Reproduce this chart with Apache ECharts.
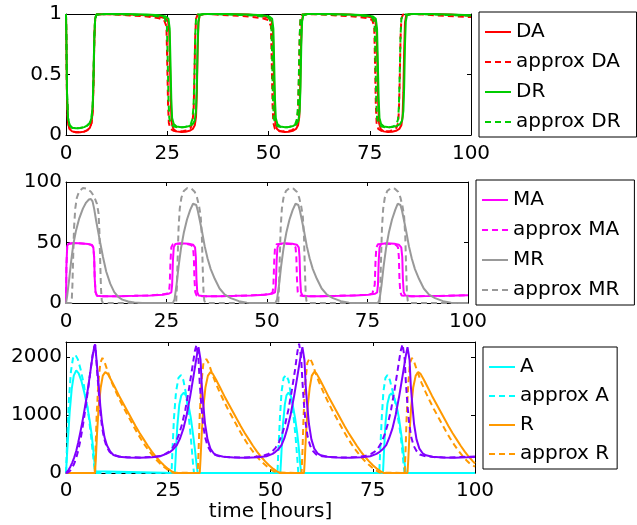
<!DOCTYPE html>
<html>
<head>
<meta charset="utf-8">
<script src="https://cdn.jsdelivr.net/npm/echarts@6/dist/echarts.min.js"></script>
<style>
  html, body { margin: 0; padding: 0; background: #fff; }
  #chart { width: 637px; height: 525px; }
</style>
</head>
<body>
<div id="chart"></div>
<script>
// ---- axis ticks ----
const timeTicks = [0, 25, 50, 75, 100];
const dTicks = [0, 0.5, 1];
const mTicks = [0, 50, 100];
const pTicks = [0, 1000, 2000];

// ---- panel 1: DNA binding states (fraction) as [time, value] ----
const DA = [[0,1],[0.1,0.75],[0.25,0.3],[0.5,0.1],[0.9,0.05],[1.5,0.03],[2.5,0.022],[3.5,0.022],[4.5,0.028],[5.3,0.04],[5.9,0.06],[6.3,0.1],[6.6,0.2],[6.8,0.45],[7.0,0.8],[7.2,0.96],[7.5,0.995],[10,1],[15,0.995],[20,0.99],[23,0.98],[24.5,0.965],[25.2,0.94],[25.5,0.85],[25.7,0.55],[25.9,0.25],[26.1,0.1],[26.5,0.05],[27.2,0.03],[28.5,0.025],[29.5,0.027],[30.5,0.035],[31.3,0.05],[31.8,0.08],[32.1,0.15],[32.3,0.35],[32.5,0.7],[32.7,0.93],[33,0.99],[34,1],[40,1],[45,0.995],[48,0.985],[50,0.97],[50.8,0.94],[51.1,0.85],[51.3,0.55],[51.5,0.25],[51.7,0.1],[52.1,0.05],[52.8,0.03],[54,0.025],[55,0.027],[56,0.035],[56.8,0.05],[57.3,0.08],[57.6,0.15],[57.8,0.35],[58,0.7],[58.2,0.93],[58.5,0.99],[59.5,1],[65,1],[70,0.995],[73.5,0.985],[75.5,0.97],[76.4,0.94],[76.7,0.85],[76.9,0.55],[77.1,0.25],[77.3,0.1],[77.7,0.05],[78.4,0.03],[79.5,0.025],[80.5,0.027],[81.5,0.035],[82.3,0.05],[82.8,0.08],[83.1,0.15],[83.3,0.35],[83.5,0.7],[83.7,0.93],[84,0.99],[85,1],[90,1],[95,0.995],[100,0.985]];
const approxDA = [[0,1],[0.1,0.75],[0.25,0.3],[0.5,0.1],[0.9,0.05],[1.5,0.03],[2.5,0.022],[3.5,0.022],[4.5,0.028],[5.3,0.04],[5.9,0.06],[6.3,0.1],[6.6,0.2],[6.8,0.45],[7.0,0.8],[7.2,0.96],[7.5,0.995],[10,1],[15,0.99],[20,0.98],[23,0.965],[24.2,0.95],[24.8,0.9],[25.0,0.6],[25.2,0.25],[25.4,0.1],[25.8,0.05],[26.5,0.035],[27.8,0.03],[29,0.033],[30,0.04],[30.8,0.06],[31.2,0.1],[31.5,0.2],[31.7,0.45],[31.9,0.8],[32.1,0.96],[32.5,0.995],[35,1],[40,0.99],[45,0.98],[48.5,0.965],[50,0.95],[50.6,0.9],[50.8,0.6],[51.0,0.25],[51.2,0.1],[51.6,0.05],[52.3,0.035],[53.6,0.03],[54.8,0.033],[55.8,0.04],[56.6,0.06],[57.0,0.1],[57.3,0.2],[57.5,0.45],[57.7,0.8],[57.9,0.96],[58.3,0.995],[61,1],[66,0.99],[71,0.98],[74.5,0.965],[75.6,0.95],[76.1,0.9],[76.3,0.6],[76.5,0.25],[76.7,0.1],[77.1,0.05],[77.8,0.035],[79,0.03],[80,0.033],[80.9,0.04],[81.6,0.06],[82.0,0.1],[82.2,0.2],[82.4,0.45],[82.6,0.8],[82.8,0.96],[83.2,0.995],[86,1],[91,0.99],[96,0.98],[100,0.975]];
const DR = [[0,1],[0.1,0.8],[0.25,0.35],[0.5,0.14],[0.9,0.08],[1.5,0.06],[2.5,0.055],[3.5,0.058],[4.5,0.065],[5.3,0.08],[5.9,0.1],[6.3,0.14],[6.6,0.25],[6.8,0.5],[7.0,0.82],[7.2,0.96],[7.5,0.995],[10,1],[15,1],[20,0.995],[23,0.99],[24.6,0.98],[25.3,0.96],[25.6,0.88],[25.8,0.6],[26.0,0.3],[26.2,0.14],[26.6,0.09],[27.3,0.07],[28.5,0.065],[29.5,0.067],[30.5,0.075],[31.3,0.09],[31.8,0.12],[32.1,0.2],[32.3,0.4],[32.5,0.75],[32.7,0.94],[33.0,0.99],[34,1],[40,1],[45,0.995],[48.5,0.99],[50.2,0.98],[50.9,0.96],[51.2,0.88],[51.4,0.6],[51.6,0.3],[51.8,0.14],[52.2,0.09],[52.9,0.07],[54.1,0.065],[55.1,0.067],[56.1,0.075],[56.9,0.09],[57.4,0.12],[57.7,0.2],[57.9,0.4],[58.1,0.75],[58.3,0.94],[58.6,0.99],[59.6,1],[65,1],[70,0.995],[74,0.99],[75.8,0.98],[76.5,0.96],[76.8,0.88],[77.0,0.6],[77.2,0.3],[77.4,0.14],[77.8,0.09],[78.5,0.07],[79.7,0.065],[80.7,0.067],[81.7,0.075],[82.5,0.09],[83.0,0.12],[83.3,0.2],[83.5,0.4],[83.7,0.75],[83.9,0.94],[84.2,0.99],[85.2,1],[90,1],[95,0.995],[100,0.99]];
const approxDR = [[0,1],[0.1,0.8],[0.25,0.35],[0.5,0.14],[0.9,0.08],[1.5,0.06],[2.5,0.055],[3.5,0.058],[4.5,0.065],[5.3,0.08],[5.9,0.1],[6.3,0.14],[6.6,0.25],[6.8,0.5],[7.0,0.82],[7.2,0.96],[7.5,0.995],[10,1],[15,0.995],[20,0.99],[23,0.98],[24.3,0.97],[24.9,0.92],[25.1,0.65],[25.3,0.3],[25.5,0.14],[25.9,0.09],[26.6,0.07],[27.8,0.063],[29,0.065],[30,0.072],[30.8,0.09],[31.2,0.13],[31.5,0.24],[31.7,0.5],[31.9,0.82],[32.1,0.96],[32.5,0.995],[35,1],[40,0.995],[45,0.99],[48.5,0.98],[50.1,0.97],[50.7,0.92],[50.9,0.65],[51.1,0.3],[51.3,0.14],[51.7,0.09],[52.4,0.07],[53.6,0.063],[54.8,0.065],[55.8,0.072],[56.6,0.09],[57.0,0.13],[57.3,0.24],[57.5,0.5],[57.7,0.82],[57.9,0.96],[58.3,0.995],[61,1],[66,0.995],[71,0.99],[74.5,0.98],[75.7,0.97],[76.2,0.92],[76.4,0.65],[76.6,0.3],[76.8,0.14],[77.2,0.09],[77.9,0.07],[79,0.063],[80,0.065],[80.9,0.072],[81.6,0.09],[82.0,0.13],[82.2,0.24],[82.4,0.5],[82.6,0.82],[82.8,0.96],[83.2,0.995],[86,1],[91,0.995],[96,0.99],[100,0.985]];

// ---- panel 2: mRNA levels ----
const MA = [[0,0],[0.1,30],[0.3,47],[0.6,49],[2,49.5],[4,49.2],[5.5,48.8],[6.4,48],[6.8,46],[7.0,38],[7.15,20],[7.35,9],[7.7,6],[9,5.5],[13,5.6],[17,5.9],[21,6.3],[24,6.9],[25.5,7.6],[26.2,8.8],[26.4,15],[26.6,35],[26.8,46],[27.2,48.8],[28.5,49.3],[30.5,49],[31.6,48.2],[32.1,46],[32.3,38],[32.45,20],[32.65,9],[33,6.2],[34.5,5.6],[38,5.6],[42,5.9],[46,6.3],[49.5,6.9],[51.2,7.6],[52,8.8],[52.2,15],[52.4,35],[52.6,46],[53,48.8],[54.3,49.3],[56.3,49],[57.4,48.2],[57.9,46],[58.1,38],[58.25,20],[58.45,9],[58.8,6.2],[60.3,5.6],[64,5.6],[68,5.9],[72,6.3],[75.2,6.9],[76.9,7.6],[77.4,8.8],[77.6,15],[77.8,35],[78,46],[78.4,48.8],[79.7,49.3],[81.7,49],[82.8,48.2],[83.4,46],[83.65,38],[83.8,20],[84.0,9],[84.4,6.2],[86,5.6],[90,5.7],[95,6],[100,6.4]];
const approxMA = [[0,0],[0.1,30],[0.3,47],[0.6,49],[2,49.5],[4,49.2],[5.5,48.8],[6.4,48],[6.8,46],[7.0,38],[7.15,20],[7.35,9],[7.7,6],[9,5.5],[13,5.6],[17,5.9],[21,6.3],[23.5,6.9],[25,7.6],[25.6,8.8],[25.8,15],[26.0,35],[26.2,46],[26.6,48.5],[28,49],[30,48.8],[31.1,48],[31.6,46],[31.8,38],[31.95,20],[32.15,9],[32.5,6.2],[34,5.6],[38,5.6],[42,5.9],[46,6.3],[49,6.9],[50.9,7.6],[51.4,8.8],[51.6,15],[51.8,35],[52.0,46],[52.4,48.5],[53.8,49],[55.8,48.8],[56.6,48],[57.1,46],[57.3,38],[57.45,20],[57.65,9],[58,6.2],[59.5,5.6],[63,5.6],[67,5.9],[71,6.3],[74.5,6.9],[76.2,7.6],[76.6,8.8],[76.8,15],[77.0,35],[77.2,46],[77.6,48.5],[79,49],[81,48.8],[82.1,48],[82.6,46],[82.8,38],[82.95,20],[83.15,9],[83.5,6.2],[85,5.6],[90,5.7],[95,6],[100,6.4]];
const MR = [[0,0],[0.3,6],[0.8,20],[1.3,35],[1.8,48],[2.5,60],[3.3,70],[4.2,78],[5.0,83],[5.7,85.5],[6.2,86],[6.6,84],[7.0,78],[7.5,68],[8.0,59],[8.5,50],[9.2,38],[10,26],[11,16],[12,9],[13,5],[14,2.8],[15.5,1.2],[17,0.4],[19,0],[26.6,0],[27.0,3],[27.5,15],[28.0,30],[28.6,45],[29.3,58],[30.1,69],[30.9,77],[31.6,82],[32.0,83],[32.4,81],[32.8,76],[33.3,68],[33.9,58],[34.5,47],[35.2,37],[36,28],[37,20],[38.2,12],[39.5,7],[41,4],[43,1.5],[45,0.3],[47,0],[52.1,0],[52.5,3],[53.0,15],[53.5,30],[54.1,45],[54.8,58],[55.6,69],[56.4,77],[57.1,82],[57.4,83],[57.8,81],[58.2,76],[58.7,68],[59.3,58],[59.9,47],[60.6,37],[61.4,28],[62.4,20],[63.6,12],[64.9,7],[66.4,4],[68.4,1.5],[70.4,0.3],[72.4,0],[77.6,0],[78.0,3],[78.5,15],[79.0,30],[79.6,45],[80.3,58],[81.1,69],[81.9,77],[82.5,82],[82.8,83],[83.2,81],[83.6,76],[84.1,68],[84.7,58],[85.3,47],[86.0,37],[86.8,28],[87.8,20],[89.0,12],[90.3,7],[91.8,4],[93.8,1.5],[95.8,0.3],[97.8,0],[100,0]];
const approxMR = [[0,0],[1.4,0],[1.6,15],[1.8,40],[2.0,62],[2.3,78],[2.7,87],[3.3,92.5],[4.2,95],[5.2,94.5],[6.2,92],[7.0,88],[7.7,82],[8.1,74],[8.3,60],[8.5,35],[8.7,12],[8.9,2],[9.2,0],[27.4,0],[27.6,15],[27.8,40],[28.0,62],[28.3,78],[28.7,87],[29.3,92.5],[30.2,95],[31.2,94.5],[32.0,92],[32.6,87],[33.1,80],[33.5,72],[33.8,55],[34.0,30],[34.2,10],[34.4,2],[34.7,0],[52.8,0],[53.0,15],[53.2,40],[53.4,62],[53.7,78],[54.1,87],[54.7,92.5],[55.6,95],[56.6,94.5],[57.4,92],[58.0,87],[58.5,80],[58.9,72],[59.2,55],[59.4,30],[59.6,10],[59.8,2],[60.1,0],[78.0,0],[78.2,15],[78.4,40],[78.6,62],[78.9,78],[79.3,87],[79.9,92.5],[80.8,95],[81.8,94.5],[82.6,92],[83.2,87],[83.7,80],[84.1,72],[84.4,55],[84.6,30],[84.8,10],[85.0,2],[85.3,0],[100,0]];

// ---- panel 3: protein levels ----
const A = [[0,0],[0.4,500],[0.9,1050],[1.4,1450],[1.9,1680],[2.5,1770],[3.1,1720],[3.8,1580],[4.5,1380],[5.2,1150],[5.8,900],[6.3,650],[6.7,380],[7.0,150],[7.2,30],[7.4,0],[26.6,0],[26.8,250],[27.2,800],[27.7,1180],[28.2,1340],[28.8,1385],[29.4,1330],[30.0,1150],[30.5,960],[31.0,700],[31.5,420],[31.9,160],[32.2,0],[52.4,0],[52.6,250],[53.0,800],[53.5,1180],[53.9,1340],[54.4,1385],[55.0,1330],[55.5,1150],[56.0,950],[56.5,700],[56.9,450],[57.2,200],[57.5,0],[77.5,0],[77.7,300],[78.1,850],[78.6,1200],[79.1,1340],[79.6,1375],[80.2,1300],[80.8,1170],[81.4,950],[82.0,650],[82.5,350],[82.9,100],[83.1,0],[100,0]];
const approxA = [[0,0],[0.3,600],[0.7,1250],[1.2,1750],[1.7,1980],[2.3,2040],[2.9,1960],[3.6,1780],[4.3,1550],[5.0,1250],[5.6,950],[6.1,650],[6.5,380],[6.9,120],[7.1,0],[25.8,0],[26.0,350],[26.4,950],[26.9,1400],[27.5,1640],[28.1,1690],[28.7,1600],[29.3,1380],[29.9,1050],[30.4,700],[30.8,380],[31.1,120],[31.3,0],[51.7,0],[51.9,350],[52.3,950],[52.7,1400],[53.2,1640],[53.8,1690],[54.4,1600],[55.0,1350],[55.6,1000],[56.1,650],[56.5,300],[56.8,0],[76.6,0],[76.8,350],[77.2,950],[77.6,1400],[78.1,1640],[78.6,1690],[79.2,1600],[79.9,1400],[80.5,1220],[81.1,980],[81.7,720],[82.2,400],[82.6,100],[82.8,0],[100,0]];
const R = [[0,0],[7.1,0],[7.3,250],[7.6,700],[8.0,1150],[8.5,1480],[9.0,1680],[9.6,1740],[10.2,1710],[11,1610],[12,1470],[13,1330],[14,1200],[15,1070],[16,940],[17,810],[18,690],[19,580],[20,470],[21,370],[22,280],[23,200],[24,130],[25,70],[26,22],[26.6,0],[32.7,0],[32.9,250],[33.2,700],[33.6,1150],[34.1,1480],[34.7,1680],[35.3,1740],[35.9,1710],[36.7,1610],[37.7,1470],[38.7,1330],[39.7,1200],[40.7,1070],[41.7,940],[42.7,810],[43.7,690],[44.7,580],[45.7,470],[46.7,370],[47.7,280],[48.7,200],[49.7,130],[50.7,70],[51.7,22],[52.3,0],[58.2,0],[58.4,250],[58.7,700],[59.1,1150],[59.6,1480],[60.1,1680],[60.7,1745],[61.3,1710],[62.1,1610],[63.1,1470],[64.1,1330],[65.1,1200],[66.1,1070],[67.1,940],[68.1,810],[69.1,690],[70.1,580],[71.1,470],[72.1,370],[73.1,280],[74.1,200],[75.1,130],[76.1,70],[77.1,22],[77.7,0],[83.5,0],[83.7,250],[84.0,700],[84.4,1150],[84.9,1480],[85.5,1680],[86.1,1740],[86.7,1710],[87.5,1610],[88.5,1470],[89.5,1330],[90.5,1200],[91.5,1070],[92.5,940],[93.5,810],[94.5,690],[95.5,580],[96.5,470],[97.5,370],[98.5,280],[99.5,200],[100,165]];
const approxR = [[0,0],[7.0,0],[7.2,350],[7.5,1000],[7.9,1550],[8.4,1900],[8.9,1985],[9.5,1900],[10.3,1730],[11.2,1560],[12.2,1400],[13.2,1250],[14.2,1110],[15.2,980],[16.2,850],[17.2,720],[18.2,600],[19.2,490],[20.2,390],[21.2,300],[22.2,220],[23.2,150],[24.2,90],[25.2,40],[26,8],[26.4,0],[32.2,0],[32.4,350],[32.7,1000],[33.1,1550],[33.6,1900],[34.3,1965],[34.9,1890],[35.7,1720],[36.6,1550],[37.6,1390],[38.6,1240],[39.6,1100],[40.6,970],[41.6,840],[42.6,710],[43.6,590],[44.6,480],[45.6,380],[46.6,290],[47.6,210],[48.6,145],[49.6,85],[50.6,38],[51.4,8],[51.8,0],[57.6,0],[57.8,350],[58.1,1000],[58.5,1550],[59.0,1900],[59.6,1985],[60.2,1900],[61.0,1730],[61.9,1560],[62.9,1400],[63.9,1250],[64.9,1110],[65.9,980],[66.9,850],[67.9,720],[68.9,600],[69.9,490],[70.9,390],[71.9,300],[72.9,220],[73.9,150],[74.9,90],[75.9,40],[76.7,8],[77.1,0],[82.8,0],[83.0,350],[83.3,1000],[83.7,1550],[84.1,1900],[84.6,1985],[85.2,1900],[86.0,1730],[86.9,1560],[87.9,1400],[88.9,1250],[89.9,1110],[90.9,980],[91.9,850],[92.9,720],[93.9,600],[94.9,490],[95.9,390],[96.9,300],[97.9,220],[98.9,150],[100,110]];
const C = [[0,0],[0.5,40],[1,100],[1.5,175],[2,265],[2.5,380],[3,530],[3.5,700],[4,880],[4.5,1080],[5,1290],[5.5,1520],[6,1770],[6.5,2020],[6.9,2170],[7.15,2210],[7.4,2000],[7.7,1750],[8.0,1510],[8.4,1150],[8.8,880],[9.4,620],[10,480],[10.8,370],[11.6,310],[13,280],[15,268],[18,265],[21,272],[23,290],[24.5,330],[25.5,365],[26.3,415],[27.1,480],[27.9,600],[28.7,765],[29.5,1000],[30.4,1340],[31.2,1680],[32.0,2030],[32.4,2170],[32.6,2200],[32.9,1950],[33.2,1510],[33.6,1150],[34.0,845],[34.6,580],[35.3,420],[36.1,340],[36.9,305],[38.5,280],[41,268],[44,265],[47,272],[49,290],[50.5,330],[51.2,365],[52,415],[52.7,480],[53.4,600],[54.1,765],[54.9,1000],[55.8,1340],[56.6,1680],[57.4,2030],[57.8,2170],[58.0,2200],[58.3,1950],[58.6,1510],[59.0,1150],[59.4,845],[60.0,580],[60.7,420],[61.5,340],[62.3,305],[63.9,280],[66.4,268],[69.4,265],[72.4,272],[74.4,290],[75.9,330],[76.7,365],[77.5,415],[78.3,480],[79.0,600],[79.8,765],[80.6,1000],[81.5,1340],[82.3,1680],[83.1,2030],[83.5,2170],[83.7,2200],[84.0,1950],[84.3,1510],[84.7,1150],[85.1,845],[85.7,580],[86.4,420],[87.2,340],[88.0,305],[89.6,280],[92.1,268],[95.1,265],[98,272],[100,278]];
const approxC = [[0,0],[0.5,10],[1,40],[1.5,90],[2,160],[2.5,260],[3,390],[3.5,560],[4,760],[4.5,990],[5,1240],[5.5,1500],[6,1770],[6.5,2030],[6.9,2180],[7.1,2220],[7.35,2020],[7.65,1720],[8.0,1400],[8.4,1050],[8.8,800],[9.3,600],[9.9,460],[10.6,370],[11.4,315],[13,285],[15,272],[18,268],[21,275],[23,292],[24.3,330],[25.2,370],[26,430],[26.8,520],[27.6,660],[28.4,850],[29.2,1100],[30.0,1420],[30.8,1780],[31.5,2100],[31.9,2210],[32.1,2220],[32.4,1950],[32.7,1550],[33.1,1150],[33.5,850],[34.0,620],[34.6,470],[35.3,380],[36.1,320],[37.5,290],[40,272],[43,268],[46,275],[48,292],[49.5,330],[50.4,370],[51.2,430],[52,520],[52.8,660],[53.6,850],[54.4,1100],[55.2,1420],[56.0,1780],[56.6,2100],[57.0,2230],[57.2,2245],[57.5,1980],[57.8,1580],[58.2,1170],[58.6,860],[59.1,620],[59.7,470],[60.4,380],[61.2,320],[62.6,290],[65,272],[68,268],[71,275],[73,292],[74.6,330],[75.5,370],[76.3,430],[77.1,520],[77.9,660],[78.7,850],[79.5,1100],[80.3,1420],[81.1,1780],[81.8,2100],[82.3,2220],[82.5,2235],[82.8,1970],[83.1,1560],[83.5,1160],[83.9,860],[84.4,620],[85.0,470],[85.7,380],[86.5,320],[87.9,290],[90.5,272],[93.5,268],[96.5,275],[100,285]];

const FONT = 'DejaVu Sans';
const BLACK = '#000';

// grid boxes for the three stacked panels
const grids = [
  { left: 66, top: 14, width: 405, height: 121 },
  { left: 66, top: 182, width: 402, height: 121 },
  { left: 66, top: 342, width: 409, height: 131 }
];

const plainNumber = v => String(v);

function xAxes(gi, labelMargin, withName) {
  const base = {
    gridIndex: gi, type: 'value', min: 0, max: 100, interval: 25,
    axisLine: { show: true, onZero: false, lineStyle: { color: BLACK, width: 1 } },
    axisTick: { show: true, inside: true, length: 4, customValues: timeTicks, lineStyle: { color: BLACK } },
    splitLine: { show: false }
  };
  const bottom = Object.assign({}, base, {
    position: 'bottom',
    axisLabel: { show: true, customValues: timeTicks, formatter: plainNumber, color: BLACK, fontSize: 20, fontFamily: FONT, margin: labelMargin }
  });
  if (withName) {
    Object.assign(bottom, {
      name: 'time [hours]', nameLocation: 'middle', nameGap: 29,
      nameTextStyle: { color: BLACK, fontSize: 20, fontFamily: FONT }
    });
  }
  const top = Object.assign({}, base, { position: 'top', axisLabel: { show: false } });
  return [bottom, top];
}

function yAxes(gi, max, interval, ticks) {
  const base = {
    gridIndex: gi, type: 'value', min: 0, max: max, interval: interval,
    axisLine: { show: true, onZero: false, lineStyle: { color: BLACK, width: 1 } },
    axisTick: { show: true, inside: true, length: 4, customValues: ticks, lineStyle: { color: BLACK } },
    splitLine: { show: false }
  };
  const left = Object.assign({}, base, {
    position: 'left',
    axisLabel: { show: true, customValues: ticks, formatter: plainNumber, color: BLACK, fontSize: 20, fontFamily: FONT, margin: 4 }
  });
  const right = Object.assign({}, base, { position: 'right', axisLabel: { show: false } });
  return [left, right];
}

function line(name, data, color, dashed, gi) {
  return {
    name: name, type: 'line', data: data,
    xAxisIndex: gi * 2, yAxisIndex: gi * 2,
    symbol: 'none', showSymbol: false, smooth: false, animation: false,
    lineStyle: { color: color, width: 2, type: dashed ? [6, 4] : 'solid' },
    itemStyle: { color: color },
    emphasis: { disabled: true }
  };
}

function legendBox(left, top, names, gap, padRight) {
  return {
    orient: 'vertical', left: left, top: top,
    data: names,
    itemWidth: 26, itemHeight: 14, itemGap: gap,
    padding: [8, padRight, 3, 5],
    backgroundColor: '#fff', borderColor: BLACK, borderWidth: 1, borderRadius: 0,
    // only the line sample is shown, no marker on it
    itemStyle: { opacity: 0 },
    textStyle: { color: BLACK, fontSize: 20, fontFamily: FONT, lineHeight: 24 },
    selectedMode: false
  };
}

const RED = '#ff0000', GREEN = '#00cc00', MAG = '#ff00ff', GRAY = '#999999';
const CYAN = '#00ffff', ORANGE = '#ff9900', PURPLE = '#8000ff';

const option = {
  backgroundColor: '#fff',
  animation: false,
  grid: grids,
  xAxis: [].concat(xAxes(0, 9, false), xAxes(1, 9, false), xAxes(2, 8, true)),
  yAxis: [].concat(yAxes(0, 1, 0.5, dTicks), yAxes(1, 100, 50, mTicks), yAxes(2, 2260, 1000, pTicks)),
  legend: [
    legendBox(479, 12, ['DA', 'approx DA', 'DR', 'approx DR'], 6, 16),
    legendBox(476, 180, ['MA', 'approx MA', 'MR', 'approx MR'], 6, 15),
    legendBox(483, 347, ['A', 'approx A', 'R', 'approx R'], 5, 8)
  ],
  series: [
    line('DA', DA, RED, false, 0),
    line('approx DA', approxDA, RED, true, 0),
    line('DR', DR, GREEN, false, 0),
    line('approx DR', approxDR, GREEN, true, 0),
    line('MA', MA, MAG, false, 1),
    line('approx MA', approxMA, MAG, true, 1),
    line('MR', MR, GRAY, false, 1),
    line('approx MR', approxMR, GRAY, true, 1),
    line('A', A, CYAN, false, 2),
    line('approx A', approxA, CYAN, true, 2),
    line('R', R, ORANGE, false, 2),
    line('approx R', approxR, ORANGE, true, 2),
    line('C', C, PURPLE, false, 2),
    line('approx C', approxC, PURPLE, true, 2)
  ]
};

const chart = echarts.init(document.getElementById('chart'), null, { renderer: 'canvas' });
chart.setOption(option);
</script>
</body>
</html>
